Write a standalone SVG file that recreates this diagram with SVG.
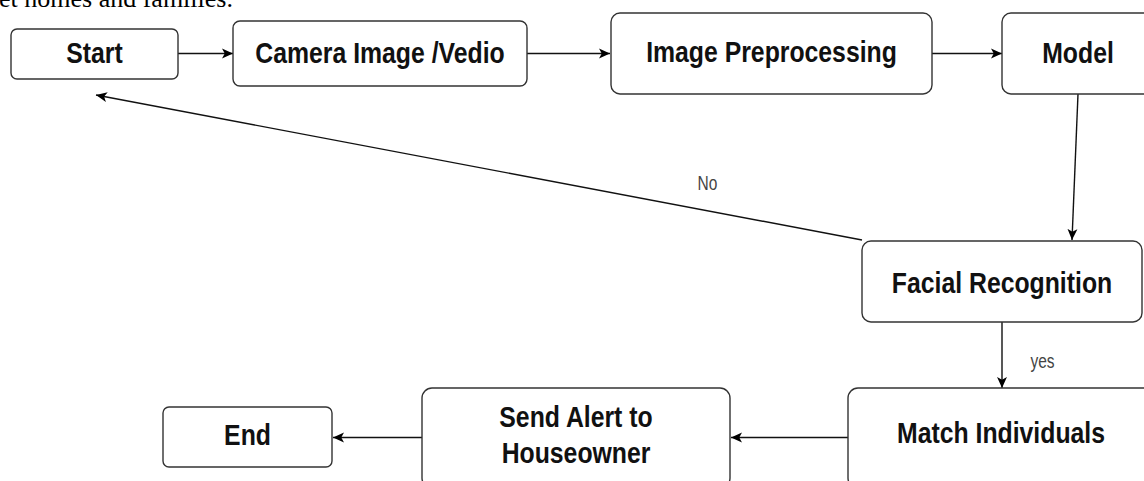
<svg xmlns="http://www.w3.org/2000/svg" width="1144" height="481" viewBox="0 0 1144 481">
  <defs>
    <marker id="arrow" viewBox="0 0 10 10" refX="10" refY="5" markerWidth="11" markerHeight="11" markerUnits="userSpaceOnUse" orient="auto">
      <path d="M0,0.5 L10,5 L0,9.5 L2.5,5 Z" fill="#000"/>
    </marker>
    <style>
      .box { fill: #fff; stroke: #333; stroke-width: 1.4; }
      .lbl { font-family: "Liberation Sans", Arial, sans-serif; font-weight: bold; font-size: 24.8px; fill: #111; text-anchor: middle; }
      .edge { fill: none; stroke: #111; stroke-width: 1.4; marker-end: url(#arrow); }
      .elbl { font-family: "Liberation Sans", Arial, sans-serif; font-size: 15.5px; fill: #444; text-anchor: middle; }
      .body { font-family: "Liberation Serif", "Times New Roman", serif; font-size: 26px; fill: #000; }
    </style>
  </defs>

  <rect width="1144" height="481" fill="#fff"/>

  <!-- tail of the paragraph above the chart -->
  <text class="body" x="-1" y="7">et homes and families.</text>

  <g id="connectors">
    <line class="edge" x1="178" y1="53.5" x2="233" y2="53.5"/>
    <line class="edge" x1="527" y1="53.5" x2="610" y2="53.5"/>
    <line class="edge" x1="932" y1="53.5" x2="1002" y2="53.5"/>
    <line class="edge" x1="1078" y1="94" x2="1072" y2="240"/>
    <line class="edge" x1="862" y1="240" x2="96" y2="95"/>
    <line class="edge" x1="1002" y1="322" x2="1002" y2="388"/>
    <line class="edge" x1="848" y1="437.5" x2="731" y2="437.5"/>
    <line class="edge" x1="422" y1="437.5" x2="333" y2="437.5"/>
    <text class="elbl" transform="translate(707.5,190) scale(1,1.28)">No</text>
    <text class="elbl" transform="translate(1042.5,368) scale(1,1.28)">yes</text>
  </g>

  <g id="start">
    <rect class="box" x="11" y="29" width="167" height="50" rx="6"/>
    <text class="lbl" transform="translate(94.5,62.5) scale(1,1.2)">Start</text>
  </g>

  <g id="camera">
    <rect class="box" x="233" y="21" width="294" height="65" rx="7"/>
    <text class="lbl" transform="translate(380,62.5) scale(1,1.2)">Camera Image /Vedio</text>
  </g>

  <g id="preprocessing">
    <rect class="box" x="611" y="13" width="321" height="81" rx="9"/>
    <text class="lbl" transform="translate(771.5,62) scale(1,1.2)">Image Preprocessing</text>
  </g>

  <g id="model">
    <rect class="box" x="1002" y="13" width="160" height="81" rx="9"/>
    <text class="lbl" transform="translate(1078,62.5) scale(1,1.2)">Model</text>
  </g>

  <g id="facial-recognition">
    <rect class="box" x="862" y="241" width="280" height="81" rx="9"/>
    <text class="lbl" transform="translate(1002,293) scale(1,1.2)">Facial Recognition</text>
  </g>

  <g id="match-individuals">
    <rect class="box" x="848" y="388" width="310" height="100" rx="10"/>
    <text class="lbl" transform="translate(1001,443) scale(1,1.2)">Match Individuals</text>
  </g>

  <g id="send-alert">
    <rect class="box" x="422" y="388" width="308" height="100" rx="10"/>
    <text class="lbl" transform="translate(576,427) scale(1,1.2)">Send Alert to</text>
    <text class="lbl" transform="translate(576,463) scale(1,1.2)">Houseowner</text>
  </g>

  <g id="end">
    <rect class="box" x="163" y="407" width="169" height="60" rx="6"/>
    <text class="lbl" transform="translate(247.5,445) scale(1,1.2)">End</text>
  </g>
</svg>
